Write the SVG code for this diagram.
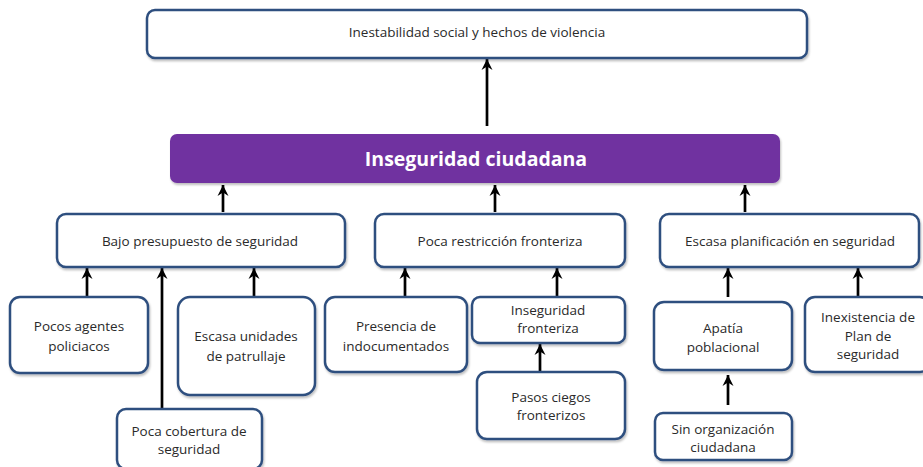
<svg xmlns="http://www.w3.org/2000/svg" width="923" height="467" viewBox="0 0 923 467">
<style>
.box{fill:#fff;stroke:#2f4f7f;stroke-width:2.5}
.t{font-family:"Open Sans","Liberation Sans",sans-serif;font-size:13.5px;fill:#2a2a2a;text-anchor:middle;dominant-baseline:central}
.main{fill:#7030a0}
.mt{font-family:"Open Sans","Liberation Sans",sans-serif;font-size:19.5px;font-weight:bold;fill:#fff;text-anchor:middle;dominant-baseline:central}
.c{stroke:#000;stroke-width:2.7;fill:none;marker-end:url(#ah)}
</style>
<defs>
<marker id="ah" markerUnits="userSpaceOnUse" markerWidth="12" markerHeight="12" viewBox="0 0 12 12" refX="11" refY="6" orient="auto">
<path d="M0,0.5 L11,6 L0,11.5 L3.5,6 z" fill="#000"/>
</marker>
<filter id="sh" x="-5%" y="-5%" width="110%" height="120%">
<feDropShadow dx="1" dy="2" stdDeviation="1.2" flood-color="#000" flood-opacity="0.25"/>
</filter>
</defs>

<g id="connectors">
<line class="c" x1="487" y1="126" x2="487" y2="59"/>
<line class="c" x1="223" y1="212" x2="223" y2="185"/>
<line class="c" x1="495" y1="212" x2="495" y2="185"/>
<line class="c" x1="745" y1="212" x2="745" y2="185"/>
<line class="c" x1="87" y1="297" x2="87" y2="268"/>
<line class="c" x1="162" y1="409" x2="162" y2="268"/>
<line class="c" x1="254" y1="297" x2="254" y2="268"/>
<line class="c" x1="405" y1="297" x2="405" y2="268"/>
<line class="c" x1="557" y1="297" x2="557" y2="268"/>
<line class="c" x1="540" y1="372" x2="540" y2="344"/>
<line class="c" x1="728" y1="297" x2="728" y2="268"/>
<line class="c" x1="728" y1="405" x2="728" y2="375"/>
<line class="c" x1="858" y1="297" x2="858" y2="268"/>
</g>

<g id="n-top"><rect class="box" filter="url(#sh)" x="147" y="10" width="660" height="48" rx="8"/><text class="t" x="477" y="32">Inestabilidad social y hechos de violencia</text></g>

<g id="n-main"><rect class="main" filter="url(#sh)" x="170" y="134" width="610" height="49" rx="7"/><text class="mt" x="476" y="158">Inseguridad ciudadana</text></g>

<g id="n-bajo"><rect class="box" filter="url(#sh)" x="57" y="214" width="288" height="53" rx="9"/><text class="t" x="200" y="241">Bajo presupuesto de seguridad</text></g>
<g id="n-poca"><rect class="box" filter="url(#sh)" x="375" y="214" width="250" height="53" rx="9"/><text class="t" x="500" y="241">Poca restricción fronteriza</text></g>
<g id="n-escasa"><rect class="box" filter="url(#sh)" x="660" y="214" width="259" height="53" rx="9"/><text class="t" x="790" y="241">Escasa planificación en seguridad</text></g>

<g id="n-pocos"><rect class="box" filter="url(#sh)" x="10" y="297" width="138" height="76" rx="10"/><text class="t" x="79" y="326">Pocos agentes</text><text class="t" x="79" y="346">policiacos</text></g>
<g id="n-cobertura"><rect class="box" filter="url(#sh)" x="117" y="409" width="145" height="60" rx="9"/><text class="t" x="189" y="431">Poca cobertura de</text><text class="t" x="189" y="449">seguridad</text></g>
<g id="n-unidades"><rect class="box" filter="url(#sh)" x="178" y="297" width="137" height="98" rx="12"/><text class="t" x="246" y="336">Escasa unidades</text><text class="t" x="246" y="356">de patrullaje</text></g>
<g id="n-presencia"><rect class="box" filter="url(#sh)" x="325" y="297" width="142" height="75" rx="10"/><text class="t" x="396" y="326">Presencia de</text><text class="t" x="396" y="346">indocumentados</text></g>
<g id="n-insfront"><rect class="box" filter="url(#sh)" x="472" y="297" width="153" height="46" rx="8"/><text class="t" x="548" y="310">Inseguridad</text><text class="t" x="548" y="328">fronteriza</text></g>
<g id="n-pasos"><rect class="box" filter="url(#sh)" x="477" y="372" width="148" height="67" rx="10"/><text class="t" x="551" y="397">Pasos ciegos</text><text class="t" x="551" y="415">fronterizos</text></g>
<g id="n-apatia"><rect class="box" filter="url(#sh)" x="654" y="302" width="138" height="68" rx="10"/><text class="t" x="723" y="328">Apatía</text><text class="t" x="723" y="347">poblacional</text></g>
<g id="n-sinorg"><rect class="box" filter="url(#sh)" x="655" y="413" width="137" height="47" rx="8"/><text class="t" x="723" y="429">Sin organización</text><text class="t" x="723" y="447">ciudadana</text></g>
<g id="n-inexist"><rect class="box" filter="url(#sh)" x="805" y="297" width="125" height="75" rx="10"/><text class="t" x="868" y="317">Inexistencia de</text><text class="t" x="868" y="336">Plan de</text><text class="t" x="868" y="354">seguridad</text></g>
</svg>
